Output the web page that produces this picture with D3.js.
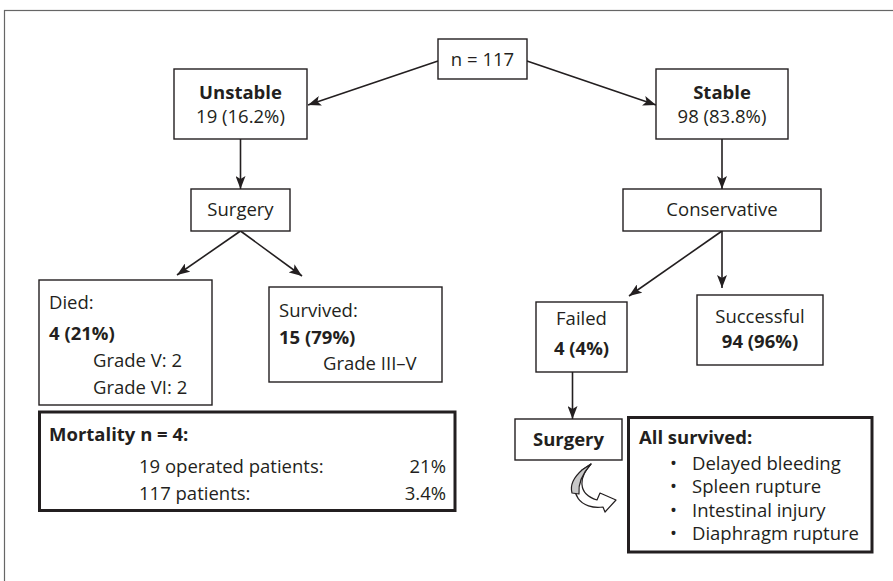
<!DOCTYPE html>
<html>
<head>
<meta charset="utf-8">
<script src="https://cdn.jsdelivr.net/npm/d3@7"></script>
<style>
  html, body { margin: 0; padding: 0; background: #fff; }
  svg { display: block; }
  text { font-family: "Open Sans", "Noto Sans", sans-serif; fill: #231f20; }
</style>
</head>
<body>
<svg id="chart" width="893" height="581"></svg>
<script>
// ---------- data ----------
const totalN = 117;
const groups = ["Unstable", "Stable"];
const groupCounts = [19, 98];
const groupPcts = ["16.2%", "83.8%"];
const treatments = ["Surgery", "Conservative"];
const surgeryOutcomes = ["Died:", "Survived:"];
const surgeryCounts = [4, 15];
const surgeryPcts = ["21%", "79%"];
const diedGrades = ["Grade V: 2", "Grade VI: 2"];
const survivedGrades = ["Grade III\u2013V"];
const conservativeOutcomes = ["Failed", "Successful"];
const conservativeCounts = [4, 94];
const conservativePcts = ["4%", "96%"];
const mortalityN = 4;
const mortalityLabels = ["19 operated patients:", "117 patients:"];
const mortalityRates = ["21%", "3.4%"];
const secondaryTreatment = "Surgery";
const secondaryHeader = "All survived:";
const secondaryItems = ["Delayed bleeding", "Spleen rupture", "Intestinal injury", "Diaphragm rupture"];

// ---------- layout ----------
const svg = d3.select("#chart");
const FS = 18.5;
const ink = "#231f20";

svg.append("defs").append("marker")
  .attr("id", "arr").attr("markerUnits", "userSpaceOnUse")
  .attr("markerWidth", 14).attr("markerHeight", 10)
  .attr("refX", 13).attr("refY", 5).attr("orient", "auto")
  .append("path").attr("d", "M0,0 L13,5 L0,10 L3,5 Z").attr("fill", ink);

// outer frame (extends beyond the viewport)
svg.append("rect").attr("x", 4.5).attr("y", 10.5).attr("width", 950).attr("height", 650)
  .attr("fill", "none").attr("stroke", "#666").attr("stroke-width", 1.2);

function box(x0, y0, x1, y1, w) {
  svg.append("rect").attr("x", x0).attr("y", y0).attr("width", x1 - x0).attr("height", y1 - y0)
    .attr("fill", "#fff").attr("stroke", ink).attr("stroke-width", w || 1.4);
}
function txt(x, y, s, opt) {
  opt = opt || {};
  svg.append("text").attr("x", x).attr("y", y).text(s)
    .attr("font-size", opt.fs || FS)
    .attr("font-weight", opt.bold ? "bold" : null)
    .attr("text-anchor", opt.anchor || "start");
}
function arrow(x0, y0, x1, y1) {
  svg.append("line").attr("x1", x0).attr("y1", y0).attr("x2", x1).attr("y2", y1)
    .attr("stroke", ink).attr("stroke-width", 1.6).attr("marker-end", "url(#arr)");
}

// arrows
const arrows = [
  [438, 61, 308, 105], [527, 61, 656, 105],
  [240.5, 139, 240.5, 189], [722, 139, 722, 189],
  [240.5, 231, 177, 275], [240.5, 231, 302, 276],
  [722, 231, 629, 296], [722, 231, 722, 288],
  [572.5, 372, 572.5, 419]
];
arrows.forEach(a => arrow(...a));

// root
box(438, 39, 527, 79);
txt(482.5, 65.5, "n = " + totalN, { anchor: "middle" });

// groups
const groupBoxes = [[174, 69, 307, 139], [656, 69, 788, 139]];
groups.forEach((g, i) => {
  const b = groupBoxes[i];
  box(...b);
  const cx = (b[0] + b[2]) / 2;
  txt(cx, 98.5, g, { bold: true, anchor: "middle" });
  txt(cx, 123, groupCounts[i] + " (" + groupPcts[i] + ")", { anchor: "middle" });
});

// treatments
const treatBoxes = [[191, 189, 290, 231], [623, 189, 821, 231]];
treatments.forEach((t, i) => {
  const b = treatBoxes[i];
  box(...b);
  txt((b[0] + b[2]) / 2, 216, t, { anchor: "middle" });
});

// surgery outcomes
box(39, 280, 212, 405);
txt(49, 309, surgeryOutcomes[0]);
txt(49, 339.5, surgeryCounts[0] + " (" + surgeryPcts[0] + ")", { bold: true });
diedGrades.forEach((g, i) => txt(93, 366.5 + i * 27, g));

box(269, 287, 442, 382);
txt(279, 317, surgeryOutcomes[1]);
txt(279, 344, surgeryCounts[1] + " (" + surgeryPcts[1] + ")", { bold: true });
survivedGrades.forEach((g, i) => txt(323, 370 + i * 27, g));

// mortality summary
box(39.5, 412, 455, 510.5, 3);
txt(49, 440.5, "Mortality n = " + mortalityN + ":", { bold: true });
mortalityLabels.forEach((l, i) => {
  txt(139, 473 + i * 27, l);
  txt(446, 473 + i * 27, mortalityRates[i], { anchor: "end" });
});

// conservative outcomes
const consBoxes = [[536, 302, 627, 372], [697, 295, 823, 365]];
const consBase = [[325, 355], [323, 348]];
conservativeOutcomes.forEach((o, i) => {
  const b = consBoxes[i];
  box(...b);
  const cx = (b[0] + b[2]) / 2;
  txt(cx, consBase[i][0], o, { anchor: "middle" });
  txt(cx, consBase[i][1], conservativeCounts[i] + " (" + conservativePcts[i] + ")", { bold: true, anchor: "middle" });
});

// secondary surgery
box(515, 419, 622, 460);
txt(568.5, 446, secondaryTreatment, { bold: true, anchor: "middle" });

// curved arrow
svg.append("path")
  .attr("d", "M582,470 L591,464 C579,477 577,494 597,500 L600,493 L616,500 L605,512 L603,507 C582,510 565,494 582,470 Z")
  .attr("fill", "#fff").attr("stroke", ink).attr("stroke-width", 1.2).attr("stroke-linejoin", "round");
svg.append("path")
  .attr("d", "M582,470 L591,464 C582,474 578,484 579,494 L572,493 C570,486 573,478 582,470 Z")
  .attr("fill", "#c8c8c8").attr("stroke", ink).attr("stroke-width", 1.2).attr("stroke-linejoin", "round");

// all survived box
box(628.5, 417.5, 872, 552, 3);
txt(639, 444, secondaryHeader, { bold: true });
secondaryItems.forEach((s, i) => {
  txt(670, 469.5 + i * 23.5, "\u2022");
  txt(692, 469.5 + i * 23.5, s);
});
</script>
</body>
</html>
